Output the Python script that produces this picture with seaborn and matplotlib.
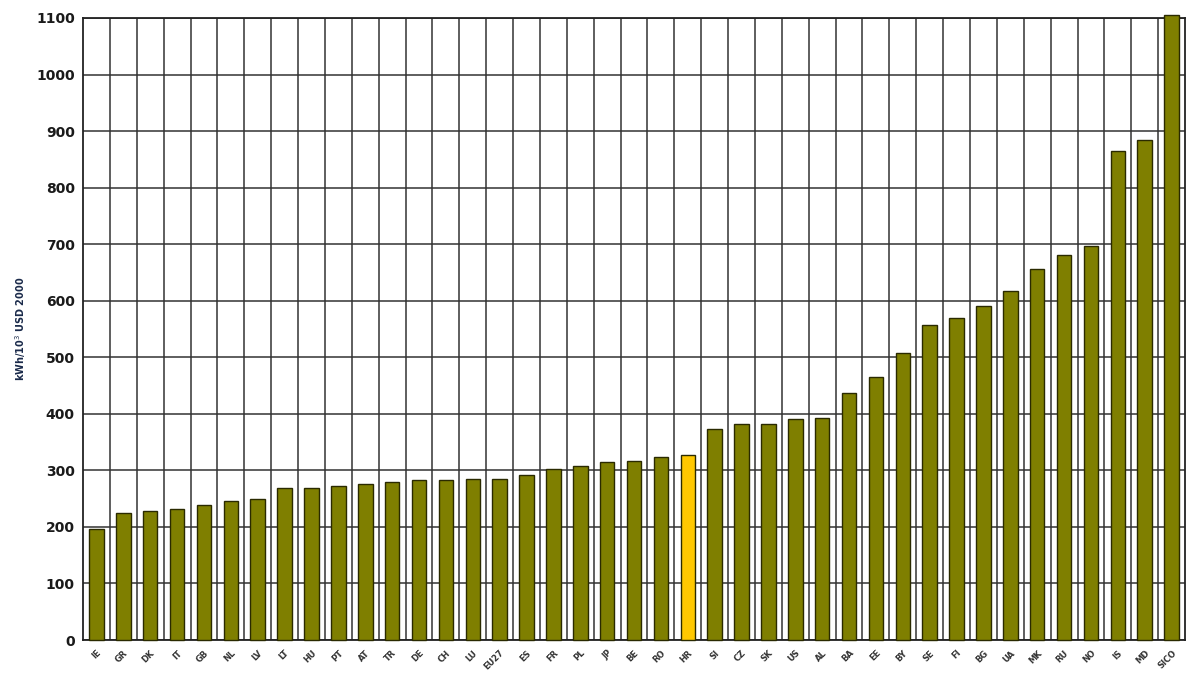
import matplotlib
matplotlib.use("Agg")
import matplotlib.pyplot as plt
import seaborn as sns
import pandas as pd
import numpy as np

countries = ["IE", "GR", "DK", "IT", "GB", "NL", "LV", "LT", "HU", "PT", "AT", "TR", "DE", "CH",
             "LU", "EU27", "ES", "FR", "PL", "JP", "BE", "RO", "HR", "SI", "CZ", "SK", "US", "AL",
             "BA", "EE", "BY", "SE", "FI", "BG", "UA", "MK", "RU", "NO", "IS", "MD", "SICO"]
values = [197, 225, 228, 232, 238, 245, 250, 268, 268, 273, 276, 280, 283, 283,
          285, 285, 292, 302, 308, 315, 316, 323, 327, 373, 382, 382, 390, 392,
          437, 465, 507, 557, 570, 590, 618, 657, 680, 697, 865, 885, 1106]
highlight = "HR"
yticks = list(range(0, 1101, 100))

df = pd.DataFrame({"country": countries, "value": values})
df["group"] = np.where(df["country"] == highlight, "hl", "base")

sns.set_theme(style="white")
plt.rcParams['font.family'] = ['DejaVu Sans']

fig = plt.figure(figsize=(11.88, 6.79), dpi=100)
ax = fig.add_axes([0.0699, 0.0574, 0.9276, 0.9161])

sns.barplot(data=df, x="country", y="value", hue="group",
            palette={"base": "#7f7f00", "hl": "#ffc800"}, saturation=1,
            dodge=False, width=0.54, edgecolor="#2a2a00", linewidth=1.0,
            legend=False, ax=ax, order=countries)

for p in ax.patches:
    p.set_clip_on(False)
    p.set_zorder(3)

ax.set_ylim(0, 1100)
ax.set_xlim(-0.5, len(countries) - 0.5)
ax.set_yticks(yticks)
ax.set_yticklabels([str(t) for t in yticks], fontsize=10, fontweight="bold", color="#1a1a1a")
ax.set_xticks(range(len(countries)))
ax.set_xticklabels(countries, rotation=45, ha="right", rotation_mode="anchor",
                   fontsize=6, fontweight="bold", color="#333333")
ax.set_xticks(np.arange(0.5, len(countries) - 0.5, 1), minor=True)
ax.tick_params(axis="x", which="both", length=0, pad=6)
ax.tick_params(axis="y", length=0, pad=6)
ax.grid(True, axis="y", which="major", color="#333333", linewidth=1.1, zorder=0)
ax.grid(True, axis="x", which="minor", color="#333333", linewidth=1.1, zorder=0)
ax.grid(False, axis="x", which="major")
ax.set_axisbelow(True)
for s in ax.spines.values():
    s.set_color("#222222")
    s.set_linewidth(1.3)

ax.set_xlabel("")
ax.set_ylabel("kWh/10$^3$ USD 2000", fontsize=7, fontweight="bold", color="#1a2a4a", labelpad=6)

fig.savefig("out.png", dpi=100)
